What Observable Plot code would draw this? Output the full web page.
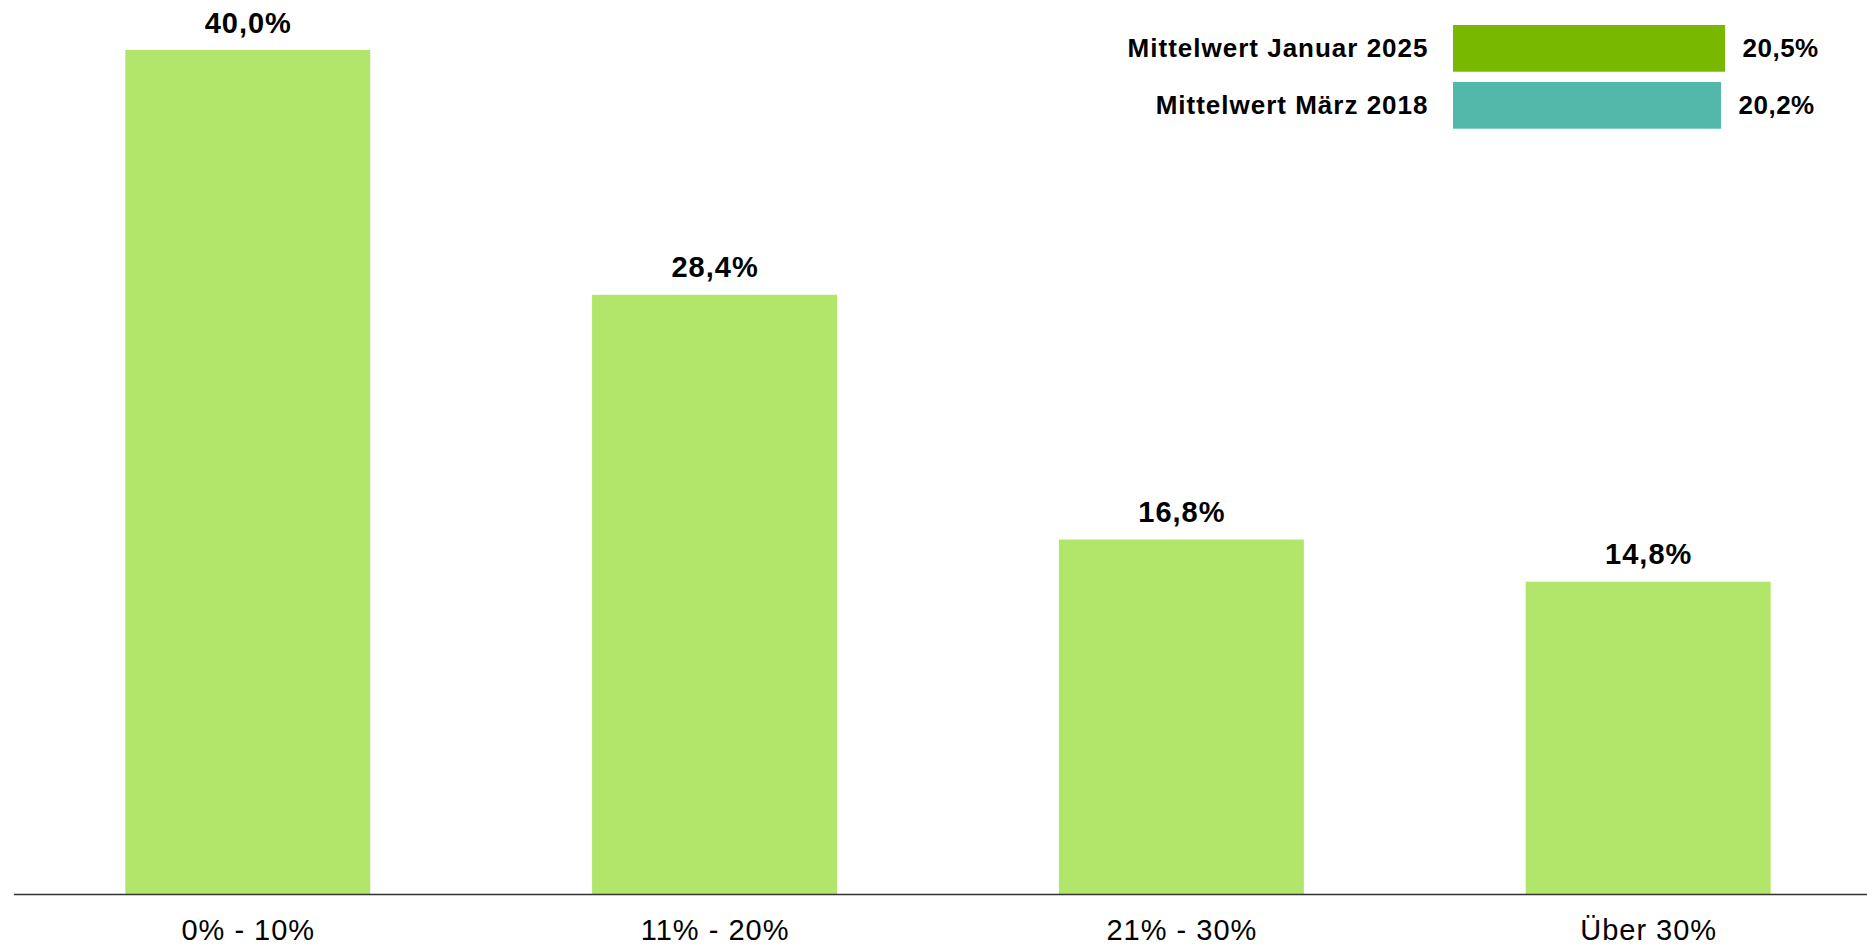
<!DOCTYPE html>
<html>
<head>
<meta charset="utf-8">
<script src="https://cdn.jsdelivr.net/npm/d3@7"></script>
<script src="https://cdn.jsdelivr.net/npm/@observablehq/plot@0.6"></script>
<style>
  html, body { margin: 0; padding: 0; background: #fff; }
  #wrap { position: relative; width: 1867px; height: 945px; overflow: hidden; }
  #legend { position: absolute; left: 1100px; top: 0px; }
  svg { font-family: "Liberation Sans", Arial, sans-serif; }
</style>
</head>
<body>
<div id="wrap"><div id="main"></div><div id="legend"></div></div>
<script>
const categories = ["0% - 10%", "11% - 20%", "21% - 30%", "Über 30%"];
const values = [40.0, 28.4, 16.8, 14.8];
const meanLabels = ["Mittelwert Januar 2025", "Mittelwert März 2018"];
const meanValues = [20.5, 20.2];

const de = d3.formatLocale({decimal: ",", thousands: ".", grouping: [3], currency: ["", " €"]});
const fmt = v => de.format(".1f")(v) + "%";

const data = categories.map((c, i) => ({cat: c, val: values[i]}));
const means = meanLabels.map((l, i) => ({label: l, val: meanValues[i]}));

const main = Plot.plot({
  width: 1867,
  height: 945,
  marginLeft: 14,
  marginRight: 0,
  marginTop: 50,
  marginBottom: 51,
  style: {fontFamily: '"Liberation Sans", Arial, sans-serif', background: "#fff"},
  x: {domain: categories, paddingInner: 0.4752, paddingOuter: 0.2224, align: 0.536, round: false, label: null},
  y: {domain: [0, 40], axis: null},
  marks: [
    Plot.barY(data, {x: "cat", y: "val", fill: "#b2e66a"}),
    Plot.ruleY([0], {stroke: "#333", strokeWidth: 1.3}),
    Plot.text(data, {x: "cat", y: "val", text: d => fmt(d.val), lineAnchor: "bottom", dy: -18,
      fontSize: 29, fontWeight: "bold", fill: "#000"}),
    Plot.axisX({tickSize: 0, tickPadding: 25, fontSize: 29, fill: "#000", label: null})
  ]
});
main.querySelectorAll('g[aria-label="text"]').forEach(g => g.style.letterSpacing = "1px");
main.querySelectorAll('g[aria-label="x-axis tick label"]').forEach(g => g.style.letterSpacing = "1px");
document.getElementById("main").appendChild(main);

const legend = Plot.plot({
  width: 767,
  height: 140,
  marginLeft: 353,
  marginRight: 142,
  marginTop: 25,
  marginBottom: 11.3,
  style: {fontFamily: '"Liberation Sans", Arial, sans-serif', background: "transparent", overflow: "visible"},
  x: {domain: [0, 20.5], axis: null},
  y: {domain: meanLabels, paddingInner: 0.18, paddingOuter: 0, round: false, axis: null},
  color: {domain: meanLabels, range: ["#79b800", "#52b9aa"]},
  marks: [
    Plot.barX(means, {x: "val", y: "label", fill: "label"}),
    Plot.text(means, {x: 0, y: "label", text: "label", textAnchor: "end", dx: -25,
      fontSize: 26, fontWeight: "bold", fill: "#000"}),
    Plot.text(means, {x: "val", y: "label", text: d => fmt(d.val), textAnchor: "start", dx: 17,
      fontSize: 26, fontWeight: "bold", fill: "#000"})
  ]
});
const lg = legend.querySelectorAll('g[aria-label="text"]');
if (lg[0]) lg[0].style.letterSpacing = "1px";
if (lg[1]) lg[1].style.letterSpacing = "0.5px";
document.getElementById("legend").appendChild(legend);
</script>
</body>
</html>
